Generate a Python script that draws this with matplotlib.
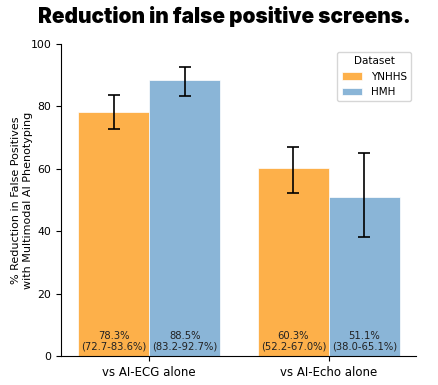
import numpy as np
import matplotlib.pyplot as plt

comparisons = ["vs AI-ECG alone", "vs AI-Echo alone"]
datasets = ["YNHHS", "HMH"]
values = {"YNHHS": [78.3, 60.3], "HMH": [88.5, 51.1]}
ci_low = {"YNHHS": [72.7, 52.2], "HMH": [83.2, 38.0]}
ci_high = {"YNHHS": [83.6, 67.0], "HMH": [92.7, 65.1]}
colors = {"YNHHS": "#FDB04A", "HMH": "#8AB5D7"}

fig = plt.figure(figsize=(4.39, 3.85), dpi=100)
ax = fig.add_axes([0.139, 0.075, 0.809, 0.811])

x = np.arange(len(comparisons))
width = 0.395
for i, ds in enumerate(datasets):
    pos = x + (i - 0.5) * width
    vals = np.array(values[ds])
    lo = vals - np.array(ci_low[ds])
    hi = np.array(ci_high[ds]) - vals
    ax.bar(pos, vals, width, color=colors[ds], label=ds, edgecolor="white", linewidth=0.5)
    ax.errorbar(pos, vals, yerr=[lo, hi], fmt="none", ecolor="black",
                elinewidth=1.2, capsize=4, capthick=1.2)
    for p, v, l, h in zip(pos, vals, ci_low[ds], ci_high[ds]):
        ax.text(p, 1.5, f"{v:.1f}%\n({l:.1f}-{h:.1f}%)", ha="center", va="bottom",
                fontsize=7.2, color="#222222", linespacing=1.1)

ax.set_xlim(-0.49, 1.485)
ax.set_ylim(0, 100)
ax.set_xticks(x)
ax.set_xticklabels(comparisons, fontsize=8.5)
ax.set_yticks([0, 20, 40, 60, 80, 100])
ax.tick_params(axis="y", labelsize=7.8)
ax.set_ylabel("% Reduction in False Positives\nwith Multimodal AI Phenotyping",
              fontsize=8, linespacing=1.15)
ax.yaxis.set_label_coords(-0.08, 0.5)
for s in ["top", "right"]:
    ax.spines[s].set_visible(False)

leg = ax.legend(title="Dataset", loc="upper right", fontsize=7.5, title_fontsize=7.5,
                bbox_to_anchor=(1.0, 0.99))

fig.suptitle("Reduction in false positive screens.", x=0.51, y=0.985,
             fontsize=15, fontweight="black", family=["Inter", "DejaVu Sans"])

fig.savefig("out.png", dpi=100)
